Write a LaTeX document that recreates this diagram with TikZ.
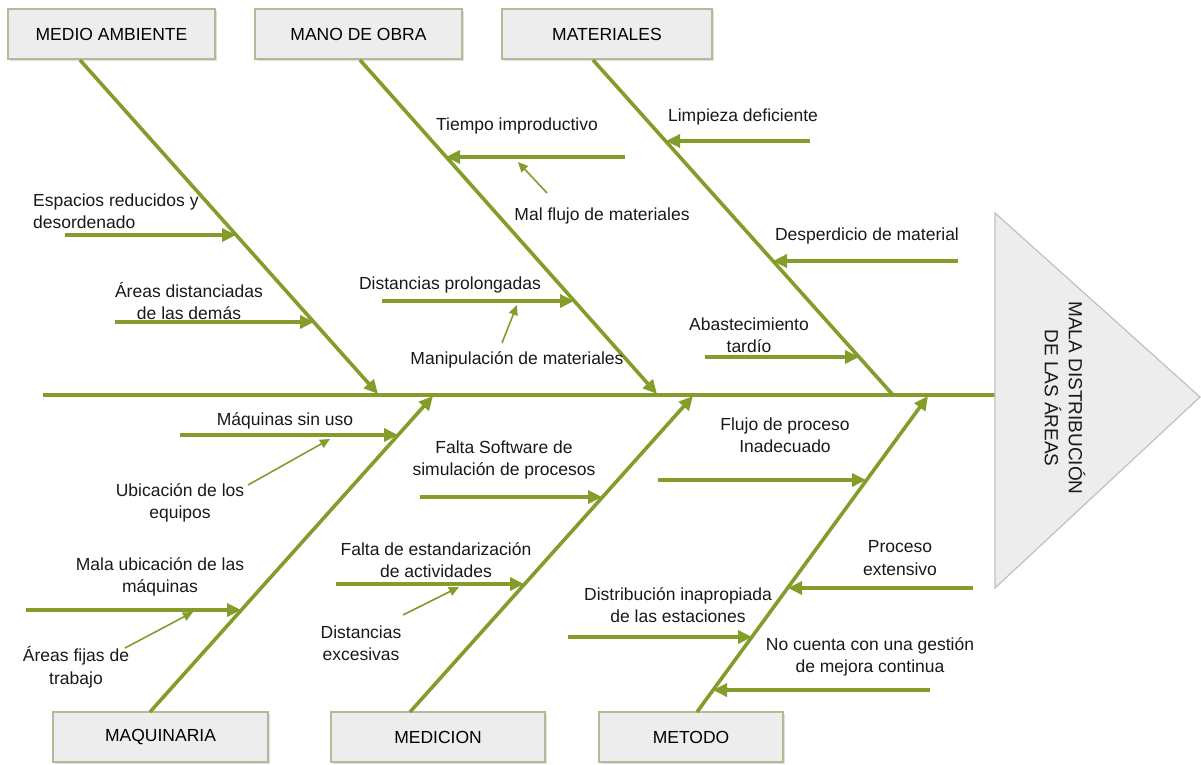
\documentclass[tikz,border=0pt]{standalone}
\usepackage{fontspec}
\setmainfont{Liberation Sans}
\usetikzlibrary{arrows.meta,shadows}
\definecolor{bonegreen}{RGB}{132,156,42}
\definecolor{boxfill}{RGB}{237,237,237}
\definecolor{boxedge}{RGB}{180,186,150}
\definecolor{headedge}{RGB}{192,192,192}
\begin{document}
\begin{tikzpicture}[x=1pt,y=-1pt,
  txt/.style={font=\fontsize{17.5}{22.5}\selectfont, inner sep=0pt, align=center, text=black!90},
  catbox/.style={draw=boxedge, fill=boxfill, line width=1.2pt, minimum height=50pt,
    inner sep=0pt, font=\fontsize{17.5}{20}\selectfont,
    drop shadow={opacity=0.25, shadow xshift=2pt, shadow yshift=-2pt}},
  bone/.style={draw=bonegreen, line width=3.6pt},
  bonearrow/.style={bone, -{Triangle[length=14pt,width=13pt]}},
  causearrow/.style={draw=bonegreen, line width=3.4pt, -{Triangle[length=14pt,width=13pt]}},
  pointer/.style={draw=bonegreen, line width=1.6pt, -{Triangle[length=10pt,width=9pt]}}]
\useasboundingbox (0,0) rectangle (1201,765);

% ---- effect head ----
\coordinate (tri1) at (995,213);
\coordinate (tri2) at (1200,397);
\coordinate (tri3) at (995,588);
\coordinate (tail) at (43,395);
\coordinate (head) at (995,395);
\draw[bone] (tail) -- (head);
\draw[draw=headedge, fill=boxfill, line width=1.2pt] (tri1) -- (tri2) -- (tri3) -- cycle;
\node[txt, rotate=-90, font=\fontsize{19}{24}\selectfont] (effect) at (1065,398)
  {MALA DISTRIBUCIÓN\\DE LAS ÁREAS};

% ---- category boxes ----
\node[catbox, minimum width=207pt] (ma)  at (111.5,34) {MEDIO AMBIENTE};
\node[catbox, minimum width=207pt] (mo)  at (358.5,34) {MANO DE OBRA};
\node[catbox, minimum width=210pt] (mat) at (607,34)   {MATERIALES};
\node[catbox, minimum width=215pt] (maq) at (160.5,737) {MAQUINARIA};
\node[catbox, minimum width=214pt] (med) at (438,737)   {MEDICION};
\node[catbox, minimum width=184pt] (met) at (691,737)   {METODO};

% ---- main bones ----
\coordinate (ma1) at (80,60);   \coordinate (ma2) at (378,394);
\coordinate (mo1) at (360,60);  \coordinate (mo2) at (657,394);
\coordinate (mt1) at (593,60);  \coordinate (mt2) at (893,395);
\coordinate (mq1) at (150,712); \coordinate (mq2) at (433,396);
\coordinate (md1) at (410,712); \coordinate (md2) at (693,396);
\coordinate (me1) at (697,712); \coordinate (me2) at (928,396);
\draw[bonearrow] (ma1) -- (ma2);
\draw[bonearrow] (mo1) -- (mo2);
\draw[bone] (mt1) -- (mt2);
\draw[bonearrow] (mq1) -- (mq2);
\draw[bonearrow] (md1) -- (md2);
\draw[bonearrow] (me1) -- (me2);

% ---- MEDIO AMBIENTE causes ----
\coordinate (a1s) at (65,235);  \coordinate (a1e) at (236,235);
\coordinate (a2s) at (115,322); \coordinate (a2e) at (314,322);
\draw[causearrow] (a1s) -- (a1e);
\draw[causearrow] (a2s) -- (a2e);
\node[txt, align=left, anchor=west] (a1) at (33,211) {Espacios reducidos y\\desordenado};
\node[txt] (a2) at (189,301) {Áreas distanciadas\\de las demás};

% ---- MANO DE OBRA causes ----
\coordinate (b1s) at (625,157); \coordinate (b1e) at (446,157);
\coordinate (b2s) at (382,301); \coordinate (b2e) at (574,301);
\draw[causearrow] (b1s) -- (b1e);
\draw[causearrow] (b2s) -- (b2e);
\node[txt] (b1) at (517,126) {Tiempo improductivo};
\node[txt] (b2) at (450,285) {Distancias prolongadas};
\node[txt] (b3) at (602,216) {Mal flujo de materiales};
\node[txt] (b4) at (517,360) {Manipulación de materiales};
\coordinate (b3s) at (547,193); \coordinate (b3e) at (518,162);
\coordinate (b4s) at (502,343); \coordinate (b4e) at (517,305);
\draw[pointer] (b3s) -- (b3e);
\draw[pointer] (b4s) -- (b4e);

% ---- MATERIALES causes ----
\coordinate (c1s) at (810,141); \coordinate (c1e) at (666,141);
\coordinate (c2s) at (958,261); \coordinate (c2e) at (773,261);
\coordinate (c3s) at (705,357); \coordinate (c3e) at (859,357);
\draw[causearrow] (c1s) -- (c1e);
\draw[causearrow] (c2s) -- (c2e);
\draw[causearrow] (c3s) -- (c3e);
\node[txt] (c1) at (743,117) {Limpieza deficiente};
\node[txt] (c2) at (867,236) {Desperdicio de material};
\node[txt] (c3) at (749,335) {Abastecimiento\\tardío};

% ---- MAQUINARIA causes ----
\coordinate (d1s) at (180,435); \coordinate (d1e) at (398,435);
\coordinate (d2s) at (26,610);  \coordinate (d2e) at (241,610);
\draw[causearrow] (d1s) -- (d1e);
\draw[causearrow] (d2s) -- (d2e);
\node[txt] (d1) at (285,421) {Máquinas sin uso};
\node[txt] (d2) at (160,577) {Mala ubicación de las\\máquinas};
\node[txt] (d3) at (180,503) {Ubicación de los\\equipos};
\node[txt] (d4) at (76,667) {Áreas fijas de\\trabajo};
\coordinate (d3s) at (248,485); \coordinate (d3e) at (330,439);
\coordinate (d4s) at (125,648); \coordinate (d4e) at (193,612);
\draw[pointer] (d3s) -- (d3e);
\draw[pointer] (d4s) -- (d4e);

% ---- MEDICION causes ----
\coordinate (e1s) at (420,497); \coordinate (e1e) at (602,497);
\coordinate (e2s) at (336,584); \coordinate (e2e) at (524,584);
\draw[causearrow] (e1s) -- (e1e);
\draw[causearrow] (e2s) -- (e2e);
\node[txt] (e1) at (504,460) {Falta Software de\\simulación de procesos};
\node[txt] (e2) at (436,560) {Falta de estandarización\\de actividades};
\node[txt] (e3) at (361,643) {Distancias\\excesivas};
\coordinate (e3s) at (403,615); \coordinate (e3e) at (459,587);
\draw[pointer] (e3s) -- (e3e);

% ---- METODO causes ----
\coordinate (f1s) at (658,480); \coordinate (f1e) at (866,480);
\coordinate (f2s) at (973,588); \coordinate (f2e) at (788,588);
\coordinate (f3s) at (568,637); \coordinate (f3e) at (752,637);
\coordinate (f4s) at (930,690); \coordinate (f4e) at (713,690);
\draw[causearrow] (f1s) -- (f1e);
\draw[causearrow] (f2s) -- (f2e);
\draw[causearrow] (f3s) -- (f3e);
\draw[causearrow] (f4s) -- (f4e);
\node[txt] (f1) at (785,435) {Flujo de proceso\\Inadecuado};
\node[txt] (f2) at (900,558) {Proceso\\extensivo};
\node[txt] (f3) at (678,605) {Distribución inapropiada\\de las estaciones};
\node[txt] (f4) at (870,657) {No cuenta con una gestión\\de mejora continua};
\end{tikzpicture}
\end{document}
